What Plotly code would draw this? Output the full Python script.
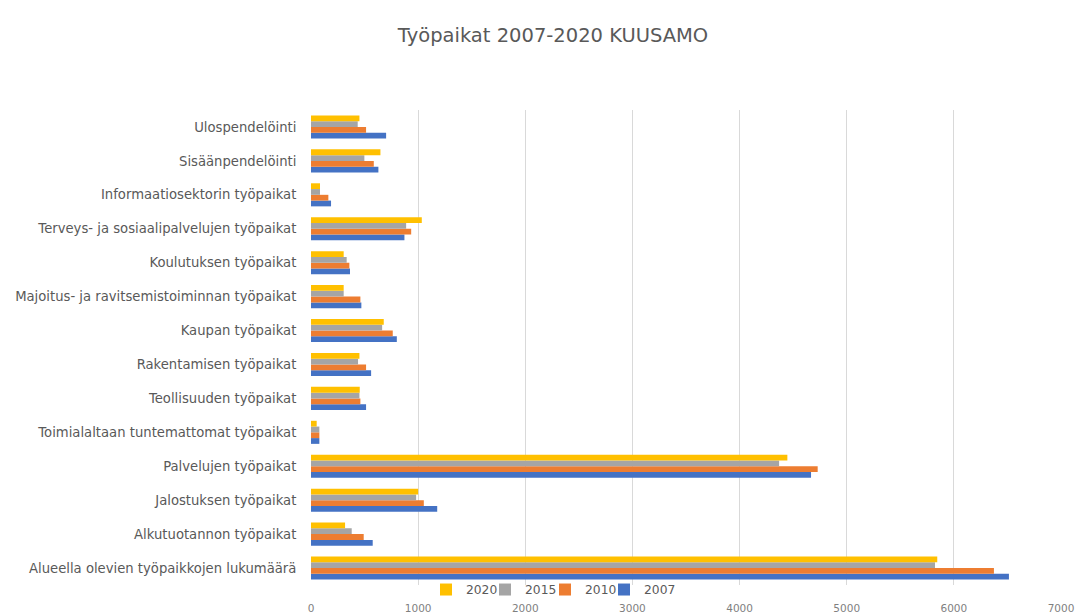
import plotly.graph_objects as go

categories = [
    "Alueella olevien työpaikkojen lukumäärä",
    "Alkutuotannon työpaikat",
    "Jalostuksen työpaikat",
    "Palvelujen työpaikat",
    "Toimialaltaan tuntemattomat työpaikat",
    "Teollisuuden työpaikat",
    "Rakentamisen työpaikat",
    "Kaupan työpaikat",
    "Majoitus- ja ravitsemistoiminnan työpaikat",
    "Koulutuksen työpaikat",
    "Terveys- ja sosiaalipalvelujen työpaikat",
    "Informaatiosektorin työpaikat",
    "Sisäänpendelöinti",
    "Ulospendelöinti",
]

v2007 = [6514, 576, 1178, 4667, 78, 514, 561, 801, 470, 364, 872, 187, 629, 701]
v2010 = [6374, 492, 1053, 4729, 78, 461, 514, 763, 461, 358, 935, 162, 586, 514]
v2015 = [5824, 380, 981, 4369, 78, 452, 439, 664, 305, 333, 888, 84, 498, 436]
v2020 = [5845, 318, 1000, 4446, 53, 455, 452, 679, 305, 305, 1034, 84, 648, 452]

series_names = ["2007", "2010", "2015", "2020"]
series_values = [v2007, v2010, v2015, v2020]
series_colors = ["#4472C4", "#ED7D31", "#A5A5A5", "#FFC000"]

x_ticks = [0, 1000, 2000, 3000, 4000, 5000, 6000, 7000]

FONT = "DejaVu Sans, Liberation Sans, Arial, sans-serif"
GREY = "#595959"

# each series gets its own legend so the entries sit close together (2020 first)
legend_ids = {"2020": "legend", "2015": "legend2", "2010": "legend3", "2007": "legend4"}
legend_x = {"legend": 0.1533, "legend2": 0.2320, "legend3": 0.3120, "legend4": 0.3907}

fig = go.Figure()
for name, vals, color in zip(series_names, series_values, series_colors):
    fig.add_trace(go.Bar(y=categories, x=vals, name=name, orientation="h",
                         legend=legend_ids[name],
                         marker=dict(color=color, line=dict(width=0))))

leg_common = dict(orientation="h", y=0.021, yanchor="top", xanchor="left",
                  font=dict(size=12.3, color=GREY, family=FONT),
                  itemwidth=30, bgcolor="rgba(0,0,0,0)")

fig.update_layout(
    width=1078, height=605,
    paper_bgcolor="white", plot_bgcolor="white",
    font=dict(family=FONT, color=GREY),
    title=dict(text="Työpaikat 2007-2020 KUUSAMO", x=0.5056, xanchor="center",
               y=0.955, yanchor="middle", font=dict(size=19.5, color=GREY, family=FONT)),
    barmode="group", bargap=0.32, bargroupgap=0,
    margin=dict(l=303, r=25, t=102, b=28, autoexpand=False),
    legend=dict(x=legend_x["legend"], **leg_common),
    legend2=dict(x=legend_x["legend2"], **leg_common),
    legend3=dict(x=legend_x["legend3"], **leg_common),
    legend4=dict(x=legend_x["legend4"], **leg_common),
    showlegend=True,
)
fig.update_xaxes(range=[0, 7000], tickvals=x_ticks, showgrid=True, gridcolor="#D9D9D9",
                 gridwidth=1, zeroline=False, showline=False, automargin=False,
                 ticks="outside", ticklen=13, tickcolor="rgba(0,0,0,0)",
                 tickfont=dict(size=10.5, color="#7F7F7F", family=FONT))
fig.update_yaxes(showgrid=False, showline=False, ticks="outside", ticklen=11, automargin=False,
                 tickcolor="rgba(0,0,0,0)", tickfont=dict(size=13.2, color=GREY, family=FONT))

fig.write_html("out.html")
